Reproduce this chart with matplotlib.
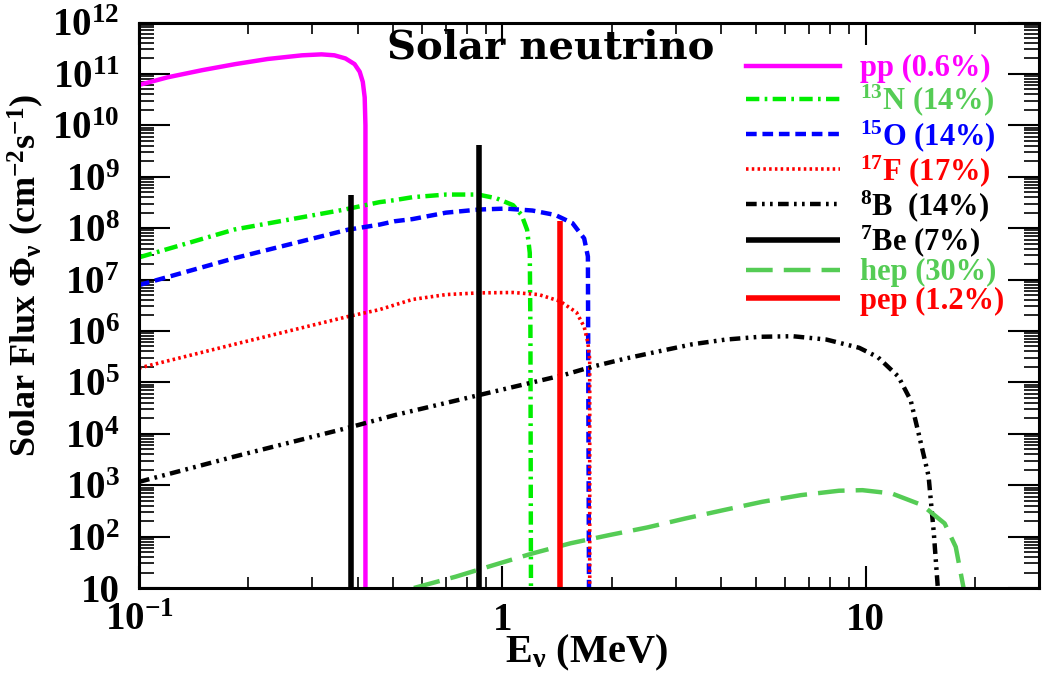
import matplotlib
matplotlib.use("Agg")
import matplotlib.pyplot as plt
from matplotlib.ticker import LogLocator, FixedLocator, NullFormatter
import numpy as np

plt.rcParams.update({
    "font.family": ["Liberation Serif", "DejaVu Serif"],
    "font.weight": "bold",
    "mathtext.fontset": "custom",
    "mathtext.rm": "Liberation Serif:bold",
    "mathtext.it": "Liberation Serif:bold",
    "mathtext.bf": "Liberation Serif:bold",
})

# continuous spectra, energies in MeV and flux in cm^-2 s^-1 MeV^-1
pp_E = [0.1, 0.12, 0.149, 0.184, 0.226, 0.281, 0.318, 0.345, 0.37, 0.392, 0.405, 0.413, 0.418, 0.42, 0.42]
pp_flux = [6.1e10, 8.6e10, 1.18e11, 1.55e11, 1.95e11, 2.3e11, 2.4e11, 2.3e11, 2.0e11, 1.55e11, 1.1e11,
           7e10, 3.5e10, 1e10, 10]

n13_E = [0.1, 0.183, 0.368, 0.459, 0.505, 0.566, 0.70, 0.858, 0.964, 1.07, 1.13, 1.17, 1.19, 1.195, 1.199]
n13_flux = [2.7e7, 9.4e7, 2.3e8, 3.2e8, 3.5e8, 4.0e8, 4.5e8, 4.5e8, 3.8e8, 2.8e8, 1.8e8, 9.3e7, 3.3e7, 1e6, 10]

o15_E = [0.1, 0.183, 0.375, 0.459, 0.505, 0.566, 0.70, 0.862, 1.02, 1.21, 1.40, 1.56, 1.68, 1.72, 1.732]
o15_flux = [7.8e6, 2.6e7, 9.3e7, 1.17e8, 1.36e8, 1.5e8, 2.0e8, 2.3e8, 2.4e8, 2.2e8, 1.8e8, 1.25e8, 6.3e7, 2.8e7, 10]

f17_E = [0.1, 0.183, 0.375, 0.459, 0.505, 0.566, 0.70, 0.862, 1.07, 1.26, 1.44, 1.60, 1.68, 1.72, 1.74, 1.74]
f17_flux = [1.9e5, 5.5e5, 1.9e6, 2.6e6, 3.2e6, 4.1e6, 5.1e6, 5.5e6, 5.6e6, 5.1e6, 3.8e6, 2.3e6, 1.2e6, 5.9e5, 2.8e5, 10]

b8_E = [0.1, 0.183, 0.375, 0.505, 1.48, 1.76, 2.18, 2.69, 3.33, 4.12, 5.11, 6.3, 7.8, 9.6,
        10.8, 12.3, 13.3, 14.1, 14.9, 15.4, 15.8]
b8_flux = [1.16e3, 3.6e3, 1.3e4, 2.3e4, 1.4e5, 2.0e5, 2.9e5, 4.0e5, 5.5e5, 6.8e5, 7.7e5, 7.9e5, 6.8e5, 4.7e5,
           3.1e5, 1.3e5, 4.5e4, 8e3, 1.5e3, 1.2e2, 10]

hep_E = [0.571, 0.744, 0.948, 1.21, 1.54, 1.97, 2.51, 3.19, 4.06, 5.19, 6.63, 8.45, 9.8, 11.8,
         14.3, 16.5, 17.7, 18.6]
hep_flux = [10, 16.6, 28, 47, 74, 107, 151, 225, 327, 475, 640, 780, 800, 690,
            410, 180, 63, 10]

# line sources, cm^-2 s^-1
be7_E = [0.384, 0.862]
be7_flux = [4.5e8, 4.2e9]
pep_E = [1.442]
pep_flux = [1.35e8]

labels = [r"pp (0.6%)", r"$^{13}$N (14%)", r"$^{15}$O (14%)", r"$^{17}$F (17%)",
          r"$^{8}$B  (14%)", r"$^{7}$Be (7%)", r"hep (30%)", r"pep (1.2%)"]
label_colors = ["#ff00ff", "#55cc55", "#0000ff", "#ff0000", "black", "black", "#55cc55", "#ff0000"]

fig = plt.figure(figsize=(10.45, 6.74), dpi=100)
ax = fig.add_axes([139 / 1045, 1 - 588 / 674, 900 / 1045, 565.5 / 674])

ymin = 10
ax.plot(pp_E, pp_flux, color="#ff00ff", lw=3.2, label=labels[0])
ax.plot(n13_E, n13_flux, color="#00ee00", lw=3.2, dashes=(3.0, 1.2, 0.6, 1.2), label=labels[1])
ax.plot(o15_E, o15_flux, color="#0000ff", lw=3.2, dashes=(2.4, 1.3), label=labels[2])
ax.plot(f17_E, f17_flux, color="#ff0000", lw=2.6, dashes=(0.7, 0.9), label=labels[3])
ax.plot(b8_E, b8_flux, color="black", lw=3.2, dashes=(2.4, 1.2, 0.6, 1.2, 0.6, 1.2), label=labels[4])
ax.vlines(be7_E, ymin, be7_flux, color="black", lw=4, label=labels[5])
ax.plot(hep_E, hep_flux, color="#55cc55", lw=3.2, dashes=(6.0, 2.5), label=labels[6])
ax.vlines(pep_E, ymin, pep_flux, color="#ff0000", lw=4, label=labels[7])

ax.set_xscale("log")
ax.set_yscale("log")
ax.set_xlim(0.1, 30)
ax.set_ylim(10, 1e12)

ax.xaxis.set_major_locator(FixedLocator([0.1, 1, 10]))
ax.set_xticklabels([r"$10^{-1}$", "1", "10"])
ax.xaxis.set_minor_locator(LogLocator(base=10, subs=np.arange(2, 10), numticks=50))
ax.xaxis.set_minor_formatter(NullFormatter())

yticks = [10.0 ** k for k in range(1, 13)]
ax.yaxis.set_major_locator(FixedLocator(yticks))
ax.set_yticklabels(["10"] + [r"$10^{%d}$" % k for k in range(2, 13)])
ax.yaxis.set_minor_locator(LogLocator(base=10, subs=np.arange(2, 10), numticks=50))
ax.yaxis.set_minor_formatter(NullFormatter())

ax.tick_params(axis="both", which="both", direction="in", top=True, right=True, colors="black")
ax.tick_params(axis="x", which="major", length=16, width=1.5, labelsize=28, pad=10)
ax.tick_params(axis="x", which="minor", length=8, width=1.2)
ax.tick_params(axis="y", which="major", length=22, width=1.5, labelsize=28, pad=14)
ax.tick_params(axis="y", which="minor", length=11, width=1.2)
for spine in ax.spines.values():
    spine.set_linewidth(2.2)

leg = ax.legend(loc="upper left", bbox_to_anchor=(0.674, 0.944), frameon=False, fontsize=22,
                handlelength=3.1, handletextpad=0.65, labelspacing=-0.02,
                borderpad=0, borderaxespad=0)
for text, c in zip(leg.get_texts(), label_colors):
    text.set_color(c)

ax.text(0.457, 0.955, "Solar neutrino", transform=ax.transAxes, ha="center", va="center",
        fontsize=29, fontweight="bold", family="DejaVu Serif")

fig.text(26 / 1045, 1 - 275 / 674, r"Solar Flux $\Phi_\nu$ (cm$^{-2}$s$^{-1}$)", rotation=90,
         ha="center", va="center", fontsize=26)
fig.text(586 / 1045, 1 - 653 / 674, r"E$_\nu$ (MeV)", ha="center", va="center", fontsize=29)

fig.savefig("out.png", dpi=100)
